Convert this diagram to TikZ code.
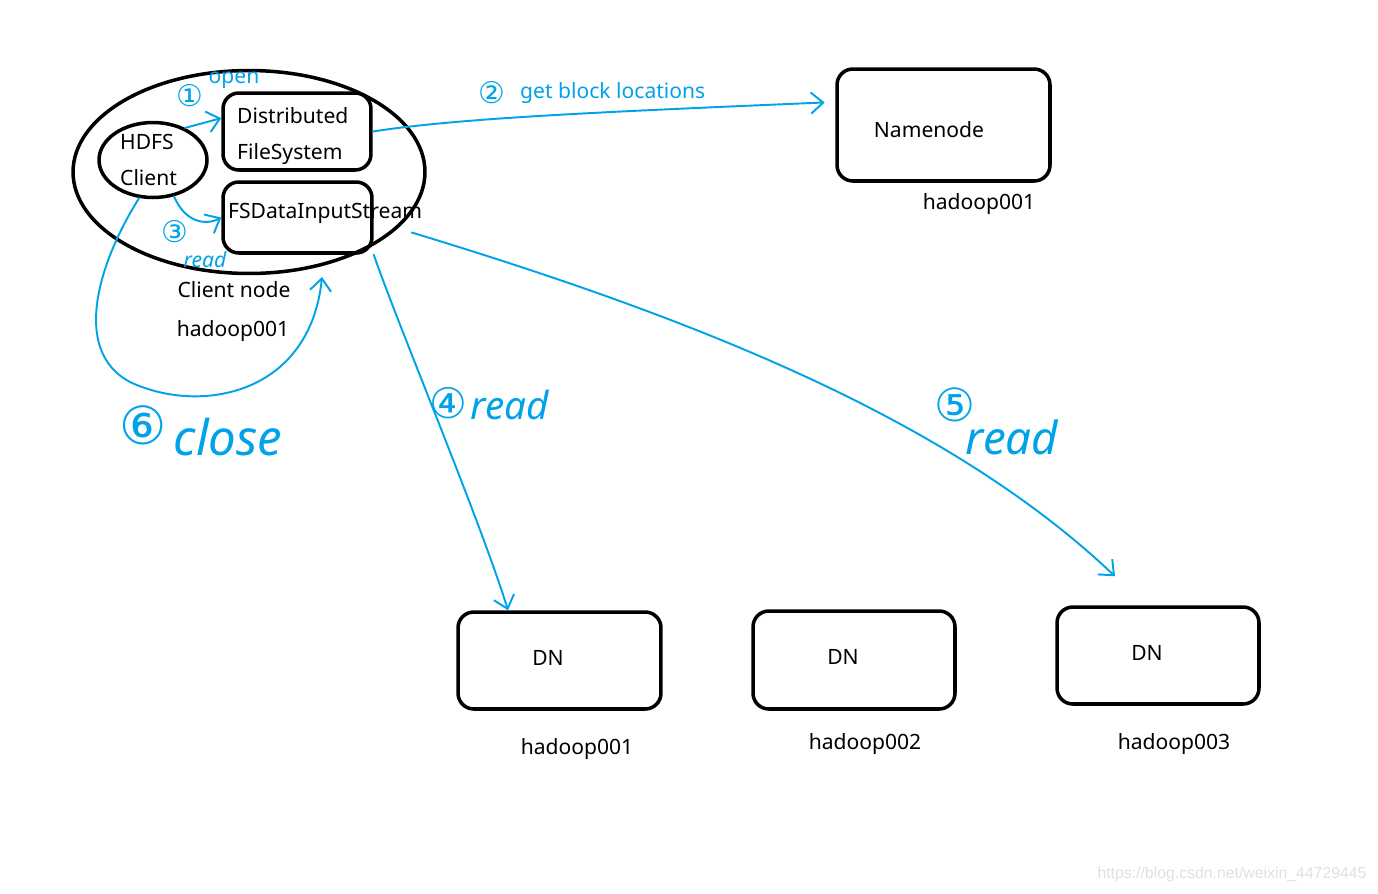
\documentclass[tikz,border=0pt]{standalone}
\usepackage{fontspec}
\setmainfont{Noto Sans}
\newfontfamily\circfont{DejaVu Sans}
\newfontfamily\markfont{Liberation Sans}
\usetikzlibrary{arrows.meta,shapes.geometric}
\definecolor{pen}{RGB}{0,162,232}
\begin{document}
\begin{tikzpicture}[x=0.02cm,y=-0.02cm,
    every node/.style={font=\fontsize{12}{20}\selectfont},
    box/.style={draw,line width=2pt,rounded corners=9pt,inner sep=0pt},
    oval/.style={draw,ellipse,line width=2pt,inner sep=0pt},
    pen arrow/.style={draw=pen,line width=1.1pt,line cap=round,-{Straight Barb[length=7pt,width=12pt]}},
    pen text/.style={text=pen},
    hand/.style={text=pen,font=\itshape\fontsize{22}{22}\selectfont},
    num/.style={text=pen,font=\circfont\fontsize{17}{17}\selectfont}]
  \useasboundingbox (0,0) rectangle (1378,893);
  % client node
  \node[oval,minimum width=7.04cm,minimum height=4.06cm] (clientnode) at (249,172) {};
  \node[oval,minimum width=2.16cm,minimum height=1.5cm] (hdfs) at (153,160) {};
  \node[anchor=west,align=left] (hdfstext) at (114,160) {HDFS\\Client};
  \node[box,minimum width=2.96cm,minimum height=1.54cm] (dfs) at (297,131.5) {};
  \node[anchor=west,align=left] (dfstext) at (231,136) {Distributed\\FileSystem};
  \node[box,minimum width=2.98cm,minimum height=1.42cm] (fsd) at (297.5,217.5) {};
  \node[anchor=west] (fsdtext) at (222,213) {FSDataInputStream};
  \node (clientlabel) at (234,290) {Client node};
  \node (clienthost) at (233,331) {hadoop001};
  % namenode
  \node[box,minimum width=4.26cm,minimum height=2.24cm] (nn) at (943.5,125) {};
  \node (nntext) at (929,130) {Namenode};
  \node (nnhost) at (979,204) {hadoop001};
  % datanodes
  \node[box,minimum width=4.06cm,minimum height=1.94cm] (dn1) at (559.5,660.5) {};
  \node (dn1text) at (548,658) {DN};
  \node (dn1host) at (577,749) {hadoop001};
  \node[box,minimum width=4.04cm,minimum height=1.96cm] (dn2) at (854,660) {};
  \node (dn2text) at (843,657) {DN};
  \node (dn2host) at (865,744) {hadoop002};
  \node[box,minimum width=4.04cm,minimum height=1.94cm] (dn3) at (1158,655.5) {};
  \node (dn3text) at (1147,653) {DN};
  \node (dn3host) at (1174,744) {hadoop003};
  % steps
  \coordinate (closeend) at (322,277);
  \draw[pen arrow] (hdfs.45) -- (dfs.170);
  \draw[pen arrow] (hdfs.-60) .. controls (185,222) and (205,226) .. (fsd.west);
  \draw[pen arrow,shorten >=6pt] (dfs.east) .. controls (460,118) and (600,112) .. (nn.168);
  \draw[pen arrow] (fsd.south east) .. controls (400,330) and (480,520) .. ([xshift=-1.03cm]dn1.north);
  \draw[pen arrow] ([shift={(38,15)}]fsd.east) .. controls (700,320) and (950,420) .. ([shift={(-43,-29)}]dn3.north);
  \draw[pen arrow] (hdfs.250) .. controls (100,260) and (70,350) .. (130,382)
    .. controls (200,415) and (310,395) .. (closeend);
  % step labels
  \node[num] (n1) at (190,96) {①};
  \node[pen text] (opentext) at (234,80) {open};
  \node[num] (n2) at (492,93) {②};
  \node[pen text,anchor=west] (gbltext) at (514,93) {get block locations};
  \node[num] (n3) at (175,232) {③};
  \node[pen text,font=\itshape\fontsize{12}{12}\selectfont] (read3) at (205,260) {read};
  \node[num,font=\circfont\fontsize{24}{24}\selectfont] (n4) at (448,403) {④};
  \node[hand] (read4) at (510,405) {read};
  \node[num,font=\circfont\fontsize{26}{26}\selectfont] (n5) at (955,405) {⑤};
  \node[hand,font=\itshape\fontsize{26}{26}\selectfont] (read5) at (1012,437) {read};
  \node[num,font=\circfont\fontsize{30}{30}\selectfont] (n6) at (143,425) {⑥};
  \node[hand,font=\itshape\fontsize{28}{28}\selectfont] (closetext) at (228,437) {close};
  \node[text=black!12,font=\markfont\fontsize{9}{9}\selectfont] (mark) at (1232,874) {https://blog.csdn.net/weixin\_44729445};
\end{tikzpicture}
\end{document}
